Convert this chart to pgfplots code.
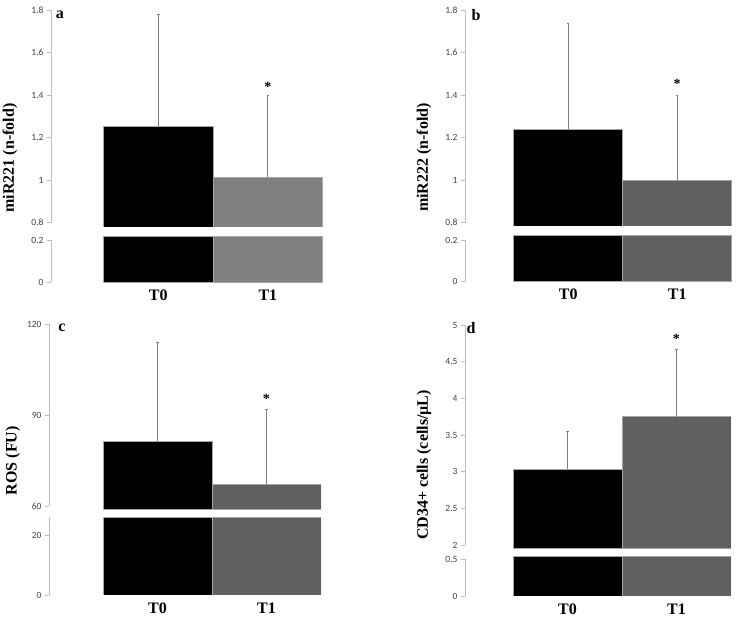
\documentclass[border=0pt]{standalone}
\usepackage{fontspec}
\setmainfont{Liberation Serif}
\newfontfamily\tickfont{Carlito}
\usepackage{pgfplots}
\pgfplotsset{compat=1.18}

\definecolor{barA}{gray}{0.5}
\definecolor{barB}{RGB}{96,96,96}
\definecolor{axisgray}{RGB}{190,190,190}
\definecolor{errgray}{RGB}{128,128,128}
\definecolor{ticktext}{RGB}{64,64,64}

\pgfplotsset{
  common/.style={
    scale only axis, anchor=south west, ybar, bar width=1,
    axis y line=left,
    y axis line style={-, draw=axisgray, line width=0.8pt},
    ytick style={draw=axisgray, line width=0.8pt},
    tick align=outside, major tick length=4pt,
    yticklabel style={font=\tickfont\fontsize{9.5}{11}\selectfont, text=ticktext, /pgf/number format/fixed},
    /pgf/number format/assume math mode=true,
    xmax=1.5,
    error bars/error bar style={errgray, line width=0.8pt},
    error bars/error mark options={rotate=90, mark size=1.2pt, errgray, line width=0.6pt},
  },
  upper/.style={common, axis x line=none},
  lower/.style={common, axis x line*=bottom, x axis line style={draw=none}, xtick style={draw=none},
    xtick={0,1}, xticklabels={T0,T1},
    xticklabel style={font=\fontsize{16}{18}\selectfont\bfseries, text=black}},
  bk/.style={fill=black, draw=gray!70, line width=0.5pt, bar shift=0pt},
  gr/.style={fill=#1, draw=gray!70, line width=0.5pt, bar shift=0pt},
}

\begin{document}
\begin{tikzpicture}[x=1pt,y=1pt]
\path[use as bounding box] (0,0) rectangle (745,617);

% ---------- panel a ----------
\begin{axis}[upper, at={(51pt,390.05pt)}, width=271.6pt, height=216.75pt,
  xmin=-0.98, ymin=0.78, ymax=1.8, ytick={0.8,1,1.2,1.4,1.6,1.8},
  y axis line style={shorten <=4.25pt}]
\addplot[bk, error bars/.cd, y dir=plus, y explicit] coordinates {(0,1.256) +- (0,0.524)};
\addplot[gr=barA, error bars/.cd, y dir=plus, y explicit] coordinates {(1,1.016) +- (0,0.384)};
\node[font=\fontsize{14}{14}\selectfont\bfseries] at (axis cs:1,1.44) {*};
\end{axis}
\begin{axis}[lower, at={(51pt,334.7pt)}, width=271.6pt, height=46.2pt,
  xmin=-0.98, ymin=0, ymax=0.22, ytick={0,0.2},
  y axis line style={shorten >=4.2pt}]
\addplot[bk] coordinates {(0,0.22)};
\addplot[gr=barA] coordinates {(1,0.22)};
\end{axis}
\node[rotate=90, font=\fontsize{16}{18}\selectfont\bfseries] at (10,459) {miR221 (n-fold)};
\node[font=\fontsize{16}{16}\selectfont\bfseries] at (60,602) {a};

% ---------- panel b ----------
\begin{axis}[upper, at={(465pt,391.1pt)}, width=266.7pt, height=215.7pt,
  xmin=-0.947, ymin=0.785, ymax=1.8, ytick={0.8,1,1.2,1.4,1.6,1.8},
  y axis line style={shorten <=3.2pt}]
\addplot[bk, error bars/.cd, y dir=plus, y explicit] coordinates {(0,1.239) +- (0,0.498)};
\addplot[gr=barB, error bars/.cd, y dir=plus, y explicit] coordinates {(1,1.00) +- (0,0.40)};
\node[font=\fontsize{14}{14}\selectfont\bfseries] at (axis cs:1,1.455) {*};
\end{axis}
\begin{axis}[lower, at={(465pt,335.3pt)}, width=266.7pt, height=46.7pt,
  xmin=-0.947, ymin=0, ymax=0.224, ytick={0,0.2},
  y axis line style={shorten >=5pt}]
\addplot[bk] coordinates {(0,0.224)};
\addplot[gr=barB] coordinates {(1,0.224)};
\end{axis}
\node[rotate=90, font=\fontsize{16}{18}\selectfont\bfseries] at (424,459.5) {miR222 (n-fold)};
\node[font=\fontsize{16}{16}\selectfont\bfseries] at (476,602) {b};

% ---------- panel c ----------
\begin{axis}[upper, at={(49pt,107.7pt)}, width=272pt, height=185pt,
  xmin=-0.995, ymin=58.9, ymax=120, ytick={60,90,120},
  y axis line style={shorten <=3.3pt}]
\addplot[bk, error bars/.cd, y dir=plus, y explicit] coordinates {(0,81.5) +- (0,32.7)};
\addplot[gr=barB, error bars/.cd, y dir=plus, y explicit] coordinates {(1,67.3) +- (0,24.7)};
\node[font=\fontsize{14}{14}\selectfont\bfseries] at (axis cs:1,95.4) {*};
\end{axis}
\begin{axis}[lower, at={(49pt,22pt)}, width=272pt, height=78pt,
  xmin=-0.995, ymin=0, ymax=26, ytick={0,20}]
\addplot[bk] coordinates {(0,26)};
\addplot[gr=barB] coordinates {(1,26)};
\end{axis}
\node[rotate=90, font=\fontsize{16}{18}\selectfont\bfseries] at (12.7,156.3) {ROS (FU)};
\node[font=\fontsize{16}{16}\selectfont\bfseries] at (62,289) {c};

% ---------- panel d ----------
\begin{axis}[upper, at={(465pt,68.7pt)}, width=266pt, height=223.3pt,
  xmin=-0.94, ymin=1.955, ymax=5, ytick={2,2.5,3,3.5,4,4.5,5},
  y axis line style={shorten <=3.3pt}]
\addplot[bk, error bars/.cd, y dir=plus, y explicit] coordinates {(0,3.037) +- (0,0.509)};
\addplot[gr=barB, error bars/.cd, y dir=plus, y explicit] coordinates {(1,3.75) +- (0,0.92)};
\node[font=\fontsize{14}{14}\selectfont\bfseries] at (axis cs:1,4.81) {*};
\end{axis}
\begin{axis}[lower, at={(465pt,21pt)}, width=266pt, height=40pt,
  xmin=-0.94, ymin=0, ymax=0.545, ytick={0,0.5},
  y axis line style={shorten >=3.3pt}]
\addplot[bk] coordinates {(0,0.545)};
\addplot[gr=barB] coordinates {(1,0.545)};
\end{axis}
\node[rotate=90, font=\fontsize{16}{18}\selectfont\bfseries] at (424,152) {CD34+ cells (cells/µL)};
\node[font=\fontsize{16}{16}\selectfont\bfseries] at (471,289.3) {d};
\end{tikzpicture}
\end{document}
